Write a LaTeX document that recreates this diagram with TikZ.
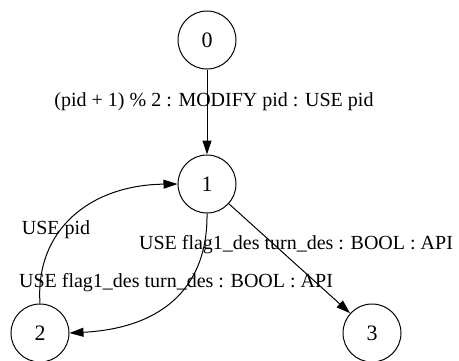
\documentclass[tikz,border=0pt]{standalone}
\usepackage{fontspec}
\setmainfont{Liberation Serif}
\usetikzlibrary{arrows.meta}
\begin{document}
\begin{tikzpicture}[x=1pt,y=-1pt,line width=1pt,
  st/.style={draw,circle,minimum size=58pt,inner sep=0pt,font=\fontsize{22}{24}\selectfont},
  lbl/.style={font=\fontsize{20}{22}\selectfont,inner sep=0pt},
  edge/.style={draw,-{Triangle[length=14pt,width=9pt]}}]
\useasboundingbox (0,0) rectangle (459,360);
\clip (0,0) rectangle (459,360);
\node[st] (n0) at (207,40) {0};
\node[st] (n1) at (207,184) {1};
\node[st] (n2) at (40,333) {2};
\node[st] (n3) at (372,333) {3};
\draw[edge] (n0) -- (n1);
\draw[edge] (n2.90) .. controls (35,230) and (90,185) .. (n1.west);
\draw[edge] (n1.270) .. controls (208,285) and (165,328) .. (n2.east);
\draw[edge] (n1) -- (n3);
\node[lbl] (l01) at (214,102) {(pid + 1) \% 2 : MODIFY pid : USE pid};
\node[lbl] (l21) at (56,230) {USE pid};
\node[lbl] (l13) at (296,245) {USE flag1\_des turn\_des : BOOL : API};
\node[lbl] (l12) at (176,283) {USE flag1\_des turn\_des : BOOL : API};
\end{tikzpicture}
\end{document}
